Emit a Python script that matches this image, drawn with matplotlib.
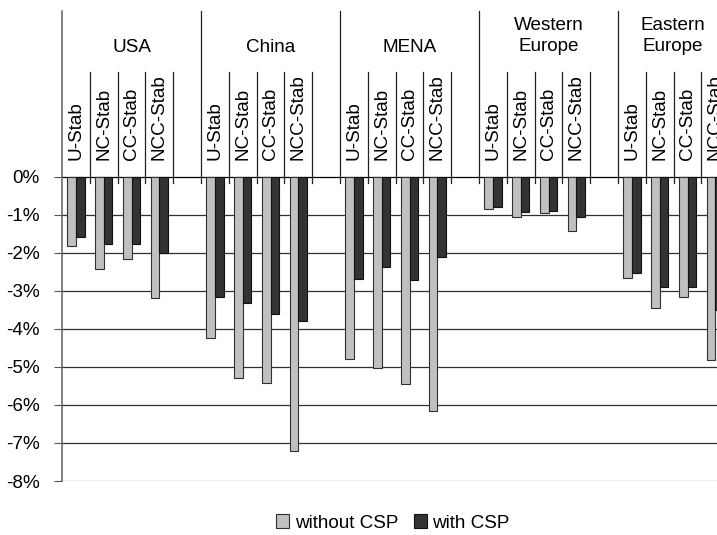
import matplotlib
matplotlib.use("Agg")
import matplotlib.pyplot as plt
import numpy as np

plt.rcParams['font.family'] = ['Liberation Sans', 'DejaVu Sans']

regions = ['USA', 'China', 'MENA', 'Western\nEurope', 'Eastern\nEurope']
scenarios = ['U-Stab', 'NC-Stab', 'CC-Stab', 'NCC-Stab']

# values in %, one row per region, one column per scenario
without_csp = [
    [-1.82, -2.42, -2.17, -3.18],
    [-4.25, -5.30, -5.42, -7.21],
    [-4.79, -5.04, -5.46, -6.15],
    [-0.85, -1.06, -0.96, -1.44],
    [-2.66, -3.45, -3.17, -4.82],
]
with_csp = [
    [-1.60, -1.76, -1.76, -2.01],
    [-3.17, -3.32, -3.61, -3.80],
    [-2.69, -2.37, -2.72, -2.12],
    [-0.80, -0.94, -0.90, -1.06],
    [-2.53, -2.90, -2.90, -3.51],
]
y_ticks = [0, -1, -2, -3, -4, -5, -6, -7, -8]

fig = plt.figure(figsize=(7.17, 5.35), dpi=100)
# plot area runs past the right edge of the picture, like the original
ax = fig.add_axes([62 / 717, 1 - 481 / 535, 695 / 717, 470 / 535])
ax.set_xlim(0, 25)
ax.set_ylim(-8, 4.35)

for s in ['top', 'right', 'bottom']:
    ax.spines[s].set_visible(False)
ax.spines['left'].set_color('#606060')
ax.spines['left'].set_linewidth(1.1)

# gridlines
for v in y_ticks:
    c = 'black' if v == 0 else ('#707070' if v == -8 else '#303030')
    ax.axhline(v, color=c, lw=0.9, zorder=1)

fs = 13.6
ax.set_yticks(y_ticks)
ax.set_yticklabels([f'{v}%' for v in y_ticks], fontsize=fs)
ax.tick_params(axis='y', length=6, color='#555555', pad=10)
ax.set_xticks([])

w = 0.31
for r, reg in enumerate(regions):
    centers = r * 5 + np.arange(4) + 0.5
    ax.bar(centers - w / 2, without_csp[r], width=w, color='#c0c0c0',
           edgecolor='#303030', lw=0.8, zorder=3,
           label='without CSP' if r == 0 else None)
    ax.bar(centers + w / 2, with_csp[r], width=w, color='#333333',
           edgecolor='#111111', lw=0.8, zorder=3,
           label='with CSP' if r == 0 else None)
    # region separator
    if r > 0:
        ax.plot([r * 5, r * 5], [-0.17, 4.35], color='#222222', lw=0.9,
                clip_on=False, zorder=2)
    # scenario separators
    for s in range(1, 5):
        ax.plot([r * 5 + s, r * 5 + s], [-0.17, 2.75], color='#222222',
                lw=0.9, zorder=2)
    for s, sc in enumerate(scenarios):
        ax.text(r * 5 + s + 0.5, 0.44, sc, rotation=90, ha='center',
                va='bottom', fontsize=fs)
    xc = r * 5 + 2.5
    if r == 4:
        xc = 21.98  # pulled inside the visible area
    ax.text(xc, 3.38 if '\n' not in reg else 3.70, reg, ha='center',
            va='center', fontsize=fs, linespacing=1.3)

fig.legend(loc='center', bbox_to_anchor=(393 / 717, 1 - 523 / 535), ncol=2,
           frameon=False, fontsize=fs, handlelength=0.7, handleheight=0.7,
           handletextpad=0.3, columnspacing=0.8)

fig.savefig('out.png', dpi=100)
